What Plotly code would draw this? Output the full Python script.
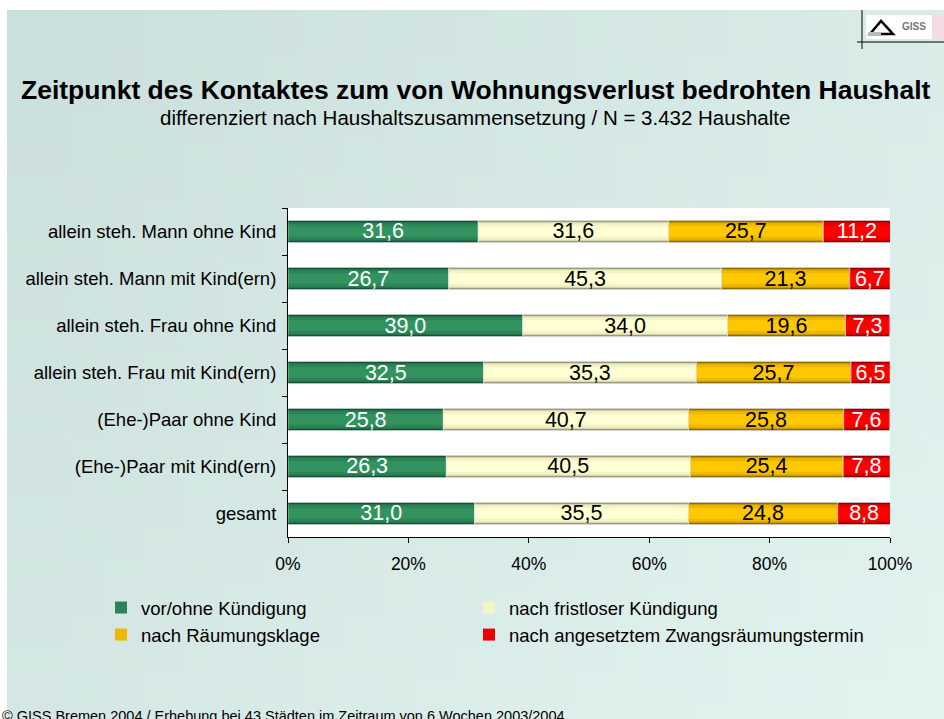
import base64, struct, zlib
import numpy as np
import plotly.graph_objects as go

categories = [
    "allein steh. Mann ohne Kind",
    "allein steh. Mann mit Kind(ern)",
    "allein steh. Frau ohne Kind",
    "allein steh. Frau mit Kind(ern)",
    "(Ehe-)Paar ohne Kind",
    "(Ehe-)Paar mit Kind(ern)",
    "gesamt",
]
series_names = [
    "vor/ohne Kündigung",
    "nach fristloser Kündigung",
    "nach Räumungsklage",
    "nach angesetztem Zwangsräumungstermin",
]
vor_ohne = [31.6, 26.7, 39.0, 32.5, 25.8, 26.3, 31.0]
fristlos = [31.6, 45.3, 34.0, 35.3, 40.7, 40.5, 35.5]
raeumungsklage = [25.7, 21.3, 19.6, 25.7, 25.8, 25.4, 24.8]
zwangsraeumung = [11.2, 6.7, 7.3, 6.5, 7.6, 7.8, 8.8]
x_tickvals = [0, 20, 40, 60, 80, 100]
x_ticktext = ["0%", "20%", "40%", "60%", "80%", "100%"]

series_values = [vor_ohne, fristlos, raeumungsklage, zwangsraeumung]
# shading layers (edge -> highlight) per series
palettes = [
    ["#0f3f27", "#19583a", "#23724b", "#2b8557", "#32935f"],
    ["#7e7d64", "#a9a886", "#d6d5ab", "#f4f3c6", "#ffffd4"],
    ["#6e5200", "#9c7600", "#c99a00", "#ecb800", "#ffc800"],
    ["#700000", "#9c0000", "#c80000", "#ec0000", "#ff0000"],
]
legend_layer = 3
legend_ids = ["legend", "legend2", "legend", "legend2"]
text_colors = ["white", "black", "black", "white"]
layer_widths = [0.47, 0.44, 0.40, 0.35, 0.22]

W, H = 944, 719
FONT = "Liberation Sans, Arial, sans-serif"


def px(x):
    return x / W


def py(y):
    return 1 - y / H


def gradient_png(w, h, c0, c1):
    rows = b""
    for j in range(h):
        row = b"\x00"
        for i in range(w):
            t = 0.6 * i / (w - 1) + 0.4 * j / (h - 1)
            row += bytes(int(round(c0[k] + (c1[k] - c0[k]) * t)) for k in range(3))
        rows += row

    def chunk(tag, data):
        c = struct.pack(">I", len(data)) + tag + data
        return c + struct.pack(">I", zlib.crc32(tag + data) & 0xFFFFFFFF)

    png = b"\x89PNG\r\n\x1a\n"
    png += chunk(b"IHDR", struct.pack(">IIBBBBB", w, h, 8, 2, 0, 0, 0))
    png += chunk(b"IDAT", zlib.compress(rows))
    png += chunk(b"IEND", b"")
    return "data:image/png;base64," + base64.b64encode(png).decode()


fig = go.Figure()

bases = np.cumsum([[0] * len(categories)] + series_values[:-1], axis=0)

for s, (name, vals) in enumerate(zip(series_names, series_values)):
    for l, (wdt, col) in enumerate(zip(layer_widths, palettes[s])):
        fig.add_trace(go.Bar(
            y=categories, x=vals, base=bases[s], orientation="h",
            width=wdt, marker=dict(color=col, line=dict(width=0)),
            name=name, showlegend=(l == legend_layer), legendrank=s + 1,
            legend=legend_ids[s], hoverinfo="skip",
        ))

for s, vals in enumerate(series_values):
    fig.add_trace(go.Bar(
        y=categories, x=vals, base=bases[s], orientation="h",
        width=layer_widths[0], marker=dict(color="rgba(0,0,0,0)"),
        text=[f"{v:.1f}".replace(".", ",") for v in vals],
        textposition="inside", insidetextanchor="middle", textangle=0,
        constraintext="none",
        textfont=dict(family=FONT, size=21.5, color=text_colors[s]),
        showlegend=False, hoverinfo="skip",
    ))

bg = gradient_png(24, 24, (203, 223, 220), (226, 244, 240))

legend_style = dict(
    orientation="v", yanchor="top", xanchor="left", itemwidth=30,
    font=dict(size=18.5, family=FONT), bgcolor="rgba(0,0,0,0)",
    traceorder="normal", tracegroupgap=0,
)

fig.update_layout(
    width=W, height=H,
    margin=dict(l=0, r=0, t=0, b=0, autoexpand=False),
    barmode="overlay",
    paper_bgcolor="white",
    plot_bgcolor="white",
    font=dict(family=FONT, color="black"),
    images=[dict(source=bg, xref="paper", yref="paper", x=px(7), y=py(10),
                 sizex=1 - px(7), sizey=py(10), sizing="stretch",
                 xanchor="left", yanchor="top", layer="below")],
    shapes=[
        dict(type="rect", xref="paper", yref="paper", x0=px(288), x1=px(890),
             y0=py(537), y1=py(208), fillcolor="white", line=dict(width=0), layer="below"),
        # logo box
        dict(type="rect", xref="paper", yref="paper", x0=px(866), x1=px(944),
             y0=py(39), y1=py(15), fillcolor="white", line=dict(width=0)),
        dict(type="rect", xref="paper", yref="paper", x0=px(932), x1=px(944),
             y0=py(39), y1=py(15), fillcolor="#f3dce6", line=dict(width=0)),
        dict(type="line", xref="paper", yref="paper", x0=px(862), x1=px(862),
             y0=py(49), y1=py(10), line=dict(color="black", width=1)),
        dict(type="line", xref="paper", yref="paper", x0=px(857), x1=px(944),
             y0=py(42), y1=py(42), line=dict(color="black", width=1)),
        dict(type="path", xref="paper", yref="paper",
             path=f"M {px(870)},{py(34)} L {px(881)},{py(21)} L {px(893)},{py(34)} Z",
             fillcolor="white", line=dict(color="black", width=2.5)),
        dict(type="rect", xref="paper", yref="paper", x0=px(868), x1=px(881),
             y0=py(36), y1=py(32), fillcolor="#bbbbbb", line=dict(width=0)),
    ],
    annotations=[
        dict(text="<b>Zeitpunkt des Kontaktes zum von Wohnungsverlust bedrohten Haushalt</b>",
             xref="paper", yref="paper", x=px(476), y=py(90), xanchor="center",
             yanchor="middle", showarrow=False, font=dict(size=26.5, family=FONT)),
        dict(text="differenziert nach Haushaltszusammensetzung / N = 3.432 Haushalte",
             xref="paper", yref="paper", x=px(475), y=py(117), xanchor="center",
             yanchor="middle", showarrow=False, font=dict(size=20.5, family=FONT)),
        dict(text="© GISS Bremen 2004 / Erhebung bei 43 Städten im Zeitraum von 6 Wochen 2003/2004",
             xref="paper", yref="paper", x=0, y=py(716), xanchor="left",
             yanchor="middle", showarrow=False, font=dict(size=14.5, family=FONT)),
        dict(text="<b>GISS</b>", xref="paper", yref="paper", x=px(900), y=py(27),
             xanchor="left", yanchor="middle", showarrow=False,
             font=dict(size=10, family=FONT, color="#777777")),
    ],
    legend=dict(x=px(101), y=py(589), **legend_style),
    legend2=dict(x=px(469), y=py(589), **legend_style),
    xaxis=dict(
        domain=[px(288), px(890)], range=[0, 100], automargin=False,
        tickvals=x_tickvals, ticktext=x_ticktext,
        showgrid=False, zeroline=False, showline=True, linecolor="black",
        ticks="outside", ticklen=5, tickcolor="black", ticklabelstandoff=6,
        tickfont=dict(size=17.5, family=FONT), fixedrange=True,
    ),
    yaxis=dict(
        domain=[py(537), py(208)], autorange="reversed", automargin=False,
        showgrid=False, showline=True, linecolor="black",
        ticks="outside", ticklen=5, tickcolor="black", tickson="boundaries",
        tickfont=dict(size=18.5, family=FONT), ticklabelstandoff=7, fixedrange=True,
    ),
)

fig.write_html(
    "out.html",
    config={"displayModeBar": False},
    post_script="document.body.style.margin='0';document.body.style.overflow='hidden';",
)
